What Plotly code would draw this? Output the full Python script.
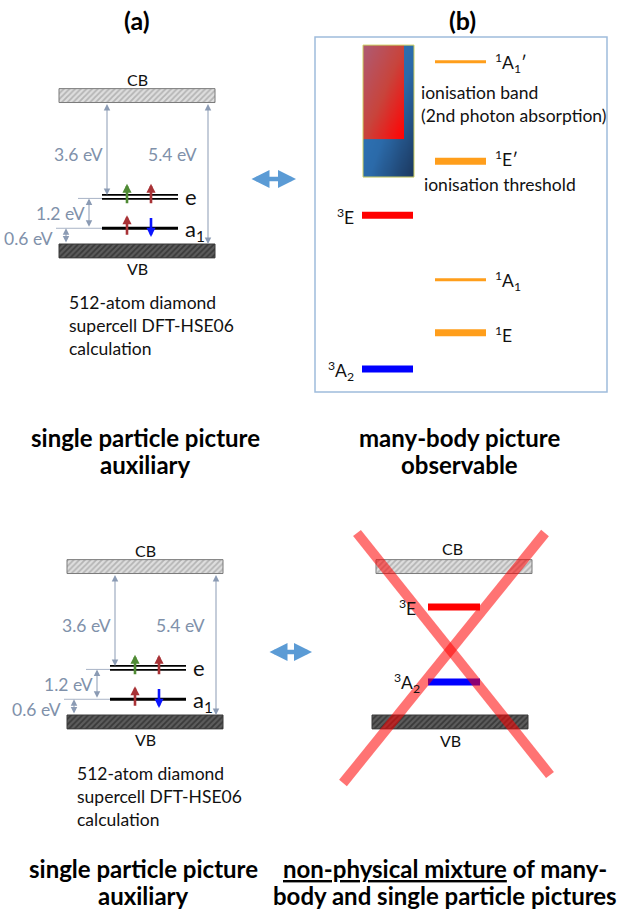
import plotly.graph_objects as go

W, H = 629, 914

# ---------------- data ----------------
# Single-particle (Kohn-Sham) picture of NV- in diamond, eV above the VBM
BAND_GAP = 5.4
sp_levels = ["a<sub>1</sub>", "e"]
sp_energy = [0.6, 1.8]

# Many-body states, eV above the 3A2 ground state
mb_states = ["<sup>3</sup>A<sub>2</sub>", "<sup>1</sup>E", "<sup>1</sup>A<sub>1</sub>",
             "<sup>3</sup>E", "<sup>1</sup>E\u2032", "<sup>1</sup>A<sub>1</sub>\u2032"]
mb_energy = [0.0, 0.46, 1.13, 1.945, 2.63, 3.89]
mb_multiplicity = [3, 1, 1, 3, 1, 1]
ion_band = [2.43, 4.10]          # ionisation band
ion_band_2nd = [2.91, 4.10]      # reached by 2nd photon absorption

# Triplets placed inside the band gap of the single-particle scheme
mix_states = ["<sup>3</sup>A<sub>2</sub>", "<sup>3</sup>E"]
mix_energy = [1.26, 4.12]

# ---------------- style ----------------
FONT = "Lato"
TXT = 17.5
LABEL_GREY = "#8091aa"
ARROW_GREY = "#8b9bb4"
BAND_T = 0.53                      # drawn thickness of CB / VB blocks (eV)
mb_color = ["#0000ff", "#ff9e1b", "#ff9e1b", "#ff0000", "#ff9e1b", "#ff9e1b"]
mb_width = [7, 7, 3, 7, 7, 3]
mb_label_dy = [-0.02, -0.02, -0.02, -0.02, 0.04, -0.02]
mix_color = ["#0000ff", "#ff0000"]

fig = go.Figure()


def energy_range(zero_px, px_per_ev):
    return [(zero_px - H) / px_per_ev, zero_px / px_per_ev]


def hatch_band(x0, x1, e0, e1, yax, bg, fg, edge):
    fig.add_trace(go.Scatter(
        x=[x0, x1, x1, x0, x0], y=[e0, e0, e1, e1, e0], yaxis=yax,
        mode="lines", fill="toself", fillcolor=bg,
        fillpattern=dict(shape="/", bgcolor=bg, fgcolor=fg, size=4, solidity=0.45),
        line=dict(color=edge, width=1), hoverinfo="skip", showlegend=False))


def level(x0, x1, e, yax, color, width):
    fig.add_trace(go.Scatter(
        x=[x0, x1], y=[e, e], yaxis=yax, mode="lines",
        line=dict(color=color, width=width), hoverinfo="skip", showlegend=False))


def label(x, y, text, yref="y", size=TXT, color="#111111", xanchor="center",
          yanchor="middle", align="center"):
    fig.add_annotation(x=x, y=y, xref="x", yref=yref, text=text, showarrow=False,
                       xanchor=xanchor, yanchor=yanchor, align=align,
                       font=dict(family=FONT, size=size, color=color))


def arrow(x, y, ax, ay, yref, color, width, size, both=False, head=2):
    fig.add_annotation(x=x, y=y, ax=ax, ay=ay, xref="x", yref=yref,
                       axref="x", ayref=yref, text="", showarrow=True,
                       arrowhead=head, arrowsize=size, arrowwidth=width,
                       arrowcolor=color, arrowside="end+start" if both else "end",
                       standoff=0, startstandoff=0)


def spin(x, e, up, color, yax):
    if up:
        arrow(x, e + 0.5, x, e - 0.3, yax, color, 2.6, 0.7)
    else:
        arrow(x, e - 0.33, x, e + 0.45, yax, color, 2.6, 0.7)


def single_particle_panel(dx, yax, zero_px):
    X = lambda v: v + dx
    a1, e = sp_energy
    hatch_band(X(59), X(215), BAND_GAP, BAND_GAP + BAND_T, yax, "#dedede", "#8a8a8a", "#7a7a7a")
    hatch_band(X(59), X(215), -BAND_T, 0, yax, "#5c5c5c", "#151515", "#3a3a3a")
    # reference ticks for the gap arrows
    level(X(78), X(102), e - 0.06, yax, "#a9b4c6", 1)
    level(X(56), X(102), a1, yax, "#a9b4c6", 1)
    # defect levels: a1 single, e doubly degenerate
    level(X(102), X(178), a1, yax, "black", 3)
    for off in (-0.075, 0.075):
        level(X(102), X(178), e + off, yax, "black", 1.8)
    # energy separations
    arrow(X(66), a1, X(66), 0, yax, ARROW_GREY, 1, 1.3, both=True)
    arrow(X(89), e - 0.06, X(89), a1, yax, ARROW_GREY, 1, 1.3, both=True)
    arrow(X(107), e + 0.075, X(107), BAND_GAP, yax, ARROW_GREY, 1, 1.3, both=True)
    arrow(X(208), 0, X(208), BAND_GAP, yax, ARROW_GREY, 1, 1.3, both=True)
    label(X(55), 0.2, f"{a1:.1f} eV", yax, TXT, LABEL_GREY, xanchor="right")
    label(X(60), 1.18, f"{e - a1:.1f} eV", yax, TXT, LABEL_GREY)
    label(X(78), 3.43, f"{BAND_GAP - e:.1f} eV", yax, TXT, LABEL_GREY)
    label(X(172), 3.43, f"{BAND_GAP:.1f} eV", yax, TXT, LABEL_GREY)
    # electron occupation
    spin(X(127), e, True, "#4f8a34", yax)
    spin(X(151), e, True, "#a83236", yax)
    spin(X(127), a1, True, "#a83236", yax)
    spin(X(151), a1, False, "#0a14ff", yax)
    label(X(183), e + 0.02, sp_levels[1], yax, 22, xanchor="left")
    label(X(183), a1 - 0.05, sp_levels[0], yax, 22, xanchor="left")
    label(X(137), BAND_GAP + BAND_T + 0.35, "CB", yax, 16)
    label(X(137), -BAND_T - 0.42, "VB", yax, 16)
    label(X(67), zero_px + 46, "512-atom diamond<br>supercell DFT-HSE06<br>calculation",
          "y", TXT, xanchor="left", yanchor="top", align="left")


# (a) top and bottom
single_particle_panel(0, "y2", 244)
single_particle_panel(8, "y3", 715)

# (b) many-body levels
bx0, bx1 = 363, 414
rx1 = 404
n = 12
grad_z = [[(i / (n - 1) + (1 - j / (n - 1))) / 2 for i in range(n)] for j in range(n)]
fig.add_trace(go.Heatmap(
    z=grad_z, x0=bx0 + (bx1 - bx0) / (2 * n), dx=(bx1 - bx0) / n,
    y0=ion_band[0] + (ion_band[1] - ion_band[0]) / (2 * n), dy=(ion_band[1] - ion_band[0]) / n,
    yaxis="y4", zsmooth="best", showscale=False, hoverinfo="skip",
    colorscale=[[0, "#2f7bc0"], [0.55, "#2b6aa9"], [1, "#1c3a62"]]))
fig.add_trace(go.Heatmap(
    z=grad_z, x0=bx0 + (rx1 - bx0) / (2 * n), dx=(rx1 - bx0) / n,
    y0=ion_band_2nd[0] + (ion_band_2nd[1] - ion_band_2nd[0]) / (2 * n),
    dy=(ion_band_2nd[1] - ion_band_2nd[0]) / n,
    yaxis="y4", zsmooth="best", showscale=False, hoverinfo="skip",
    colorscale=[[0, "#b0596f"], [0.5, "#c8443c"], [1, "#ff0505"]]))
fig.add_shape(type="rect", x0=bx0, x1=bx1, y0=ion_band[0], y1=ion_band[1],
              xref="x", yref="y4", line=dict(color="#d0d060", width=1), layer="above")

for name, en, mult, col, wd, ldy in zip(mb_states, mb_energy, mb_multiplicity,
                                        mb_color, mb_width, mb_label_dy):
    if mult == 3:
        level(362, 413, en, "y4", col, wd)
        label(356, en + ldy, name, "y4", TXT, xanchor="right")
    else:
        level(435, 486, en, "y4", col, wd)
        label(493, en + ldy, name, "y4", TXT, xanchor="left")

label(419, 80, "ionisation band<br>(2nd photon absorption)", "y", TXT,
      xanchor="left", yanchor="top", align="left")
label(422, 184, "ionisation threshold", "y", TXT, xanchor="left")

# (b) bottom: triplets inside the single-particle gap
hatch_band(376, 532, BAND_GAP, BAND_GAP + BAND_T, "y5", "#dedede", "#8a8a8a", "#7a7a7a")
hatch_band(372, 528, -BAND_T, 0, "y5", "#5c5c5c", "#151515", "#3a3a3a")
for name, en, col, xr in zip(mix_states, mix_energy, mix_color, [422, 418]):
    level(428, 480, en, "y5", col, 7)
    label(xr, en - 0.03, name, "y5", TXT, xanchor="right")
label(452, BAND_GAP + BAND_T + 0.41, "CB", "y5", 16)
label(450, -BAND_T - 0.46, "VB", "y5", 16)

# crossing-out of the mixed scheme
for x0, y0, x1, y1 in [(357, 533, 550, 775), (545, 533, 343, 783)]:
    fig.add_shape(type="line", x0=x0, y0=y0, x1=x1, y1=y1, xref="x", yref="y",
                  line=dict(color="rgba(255,0,0,0.55)", width=10), layer="above")

# frame around the many-body scheme
fig.add_shape(type="rect", x0=315, x1=607, y0=37, y1=392, xref="x", yref="y",
              line=dict(color="#9fbcdc", width=1.5), layer="below")

# correspondence arrows
arrow(296, 179, 250, 179, "y", "#5b9bd5", 4.5, 0.8, both=True)
arrow(312, 652, 268, 652, "y", "#5b9bd5", 4.5, 0.8, both=True)

# headings and captions
label(137, 20, "<b>(a)</b>", "y", 25, "black")
label(462, 20, "<b>(b)</b>", "y", 25, "black")
label(145, 437, "<b>single particle picture</b>", "y", 24, "black")
label(145, 464, "<b>auxiliary</b>", "y", 24, "black")
label(459, 437, "<b>many-body picture</b>", "y", 24, "black")
label(459, 464, "<b>observable</b>", "y", 24, "black")
label(143, 868, "<b>single particle picture</b>", "y", 24, "black")
label(143, 895, "<b>auxiliary</b>", "y", 24, "black")
label(445, 868, "<b><u>non-physical mixture</u> of many-</b>", "y", 24, "black")
label(445, 895, "<b>body and single particle pictures</b>", "y", 24, "black")

hidden = dict(visible=False, fixedrange=True)
fig.update_layout(
    width=W, height=H, autosize=False,
    margin=dict(l=0, r=0, t=0, b=0, pad=0),
    paper_bgcolor="white", plot_bgcolor="white",
    font=dict(family=FONT, color="black"),
    showlegend=False,
    xaxis=dict(range=[0, W], domain=[0, 1], **hidden),
    yaxis=dict(range=[H, 0], domain=[0, 1], **hidden),
    yaxis2=dict(range=energy_range(244, 26.2), overlaying="y", **hidden),
    yaxis3=dict(range=energy_range(715, 26.2), overlaying="y", **hidden),
    yaxis4=dict(range=energy_range(369, 79), overlaying="y", **hidden),
    yaxis5=dict(range=energy_range(715, 26.2), overlaying="y", **hidden),
)

fig.write_html("out.html")
